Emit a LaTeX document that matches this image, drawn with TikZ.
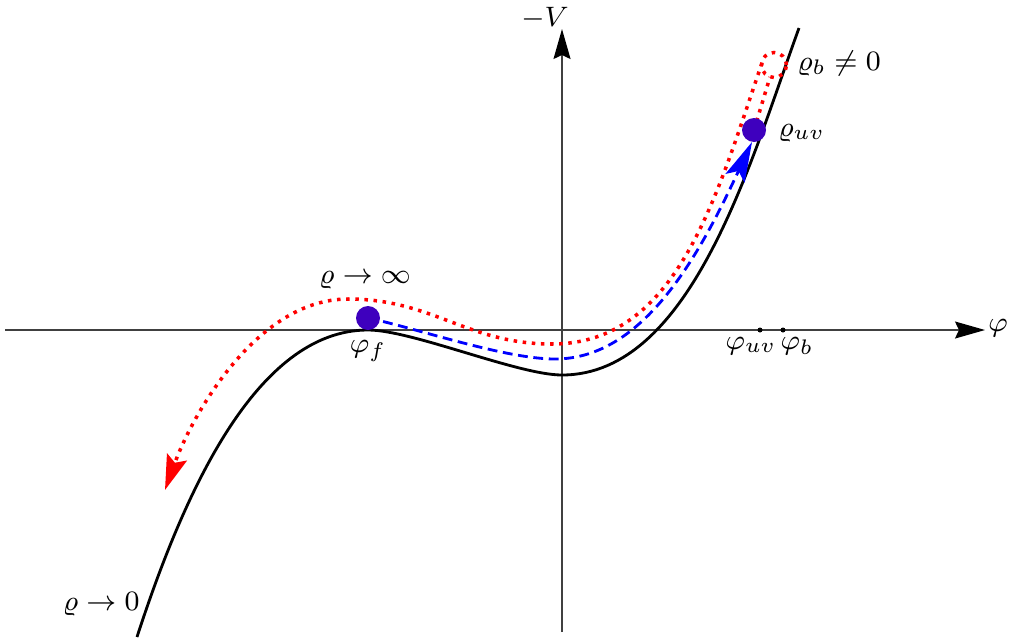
\documentclass[tikz,border=0pt]{standalone}
\usepackage{amsmath,amssymb}
\usetikzlibrary{arrows.meta,positioning}
\definecolor{flowred}{RGB}{255,0,0}
\definecolor{flowblue}{RGB}{0,0,255}
\definecolor{statedot}{RGB}{62,0,190}

\begin{document}
\begin{tikzpicture}[font=\fontsize{8.5}{10}\selectfont,
    axis/.style={thin, black!75, -{Stealth[length=3mm,width=1.7mm,inset=0.4mm,black]}},
    state/.style={circle, fill=statedot, inner sep=0pt, minimum size=2.4mm},
    redflow/.style={flowred, line width=1pt, dash pattern=on 1pt off 1.6pt}]
  \useasboundingbox (0,0) rectangle (10.10,6.37);
  % axes
  \draw[axis] (0.05,3.07) -- (9.85,3.07);
  \draw[axis] (5.62,0.05) -- (5.62,6.08);
  \node (phi) at (9.98,3.09) {$\varphi$};
  \node (V) at (5.45,6.19) {$-V$};
  % the potential
  \coordinate (low) at (1.37,0.00);
  \coordinate (max) at (3.68,3.07);
  \coordinate (min) at (5.62,2.62);
  \coordinate (top) at (7.99,6.09);
  \draw[thick] (low) .. controls +(72:1.5) and +(-1.12,0) .. (max)
    .. controls +(0.44,0) and +(-0.44,0) .. (min)
    .. controls +(1.3,0) and +(250:1.4) .. (top);
  \coordinate (f) at (3.68,3.19);
  \coordinate (uv) at (7.54,5.07);
  \coordinate (b) at (7.74,5.72);
  % red flow
  \draw[redflow] (uv) -- (7.70,5.60);
  \draw[redflow] (b) circle (0.125);
  \draw[redflow, -{Stealth[length=3.5mm,width=2.1mm,inset=0.6mm,flowred]}]
    (7.62,5.74) .. controls +(251:1.4) and +(1.26,0) .. (5.52,2.93)
    .. controls +(-0.85,0) and +(0.85,0) .. (3.48,3.38)
    .. controls +(-0.91,0) and +(70:0.8) .. (1.65,1.47);
  % blue flow
  \draw[flowblue, thick, dash pattern=on 2.8pt off 1.6pt, -{Stealth[length=4mm,width=2.1mm,inset=0.8mm,flowblue]}]
    (f) .. controls +(-12:0.5) and +(-0.5,0) .. (5.55,2.78)
    .. controls +(0.9,0) and +(245:1.2) .. (7.52,4.95);
  \node[state] (fdot) at (f) {};
  \node[state] (uvdot) at (uv) {};
  \fill (7.60,3.07) circle (0.25mm) coordinate (uvaxis);
  \fill (7.83,3.07) circle (0.25mm) coordinate (baxis);
  % labels
  \node (inf) at (3.65,3.57) {$\varrho\to\infty$};
  \node (ff) at (3.68,2.86) {$\varphi_f$};
  \node[anchor=east] (zero) at (1.52,0.33) {$\varrho\to0$};
  \node[anchor=west] (ruv) at (7.66,5.04) {$\varrho_{uv}$};
  \node[anchor=west] (rb) at (7.85,5.74) {$\varrho_b\neq0$};
  \node (fuv) at (7.51,2.91) {$\varphi_{uv}$};
  \node (fb) at (7.97,2.91) {$\varphi_b$};
\end{tikzpicture}
\end{document}
